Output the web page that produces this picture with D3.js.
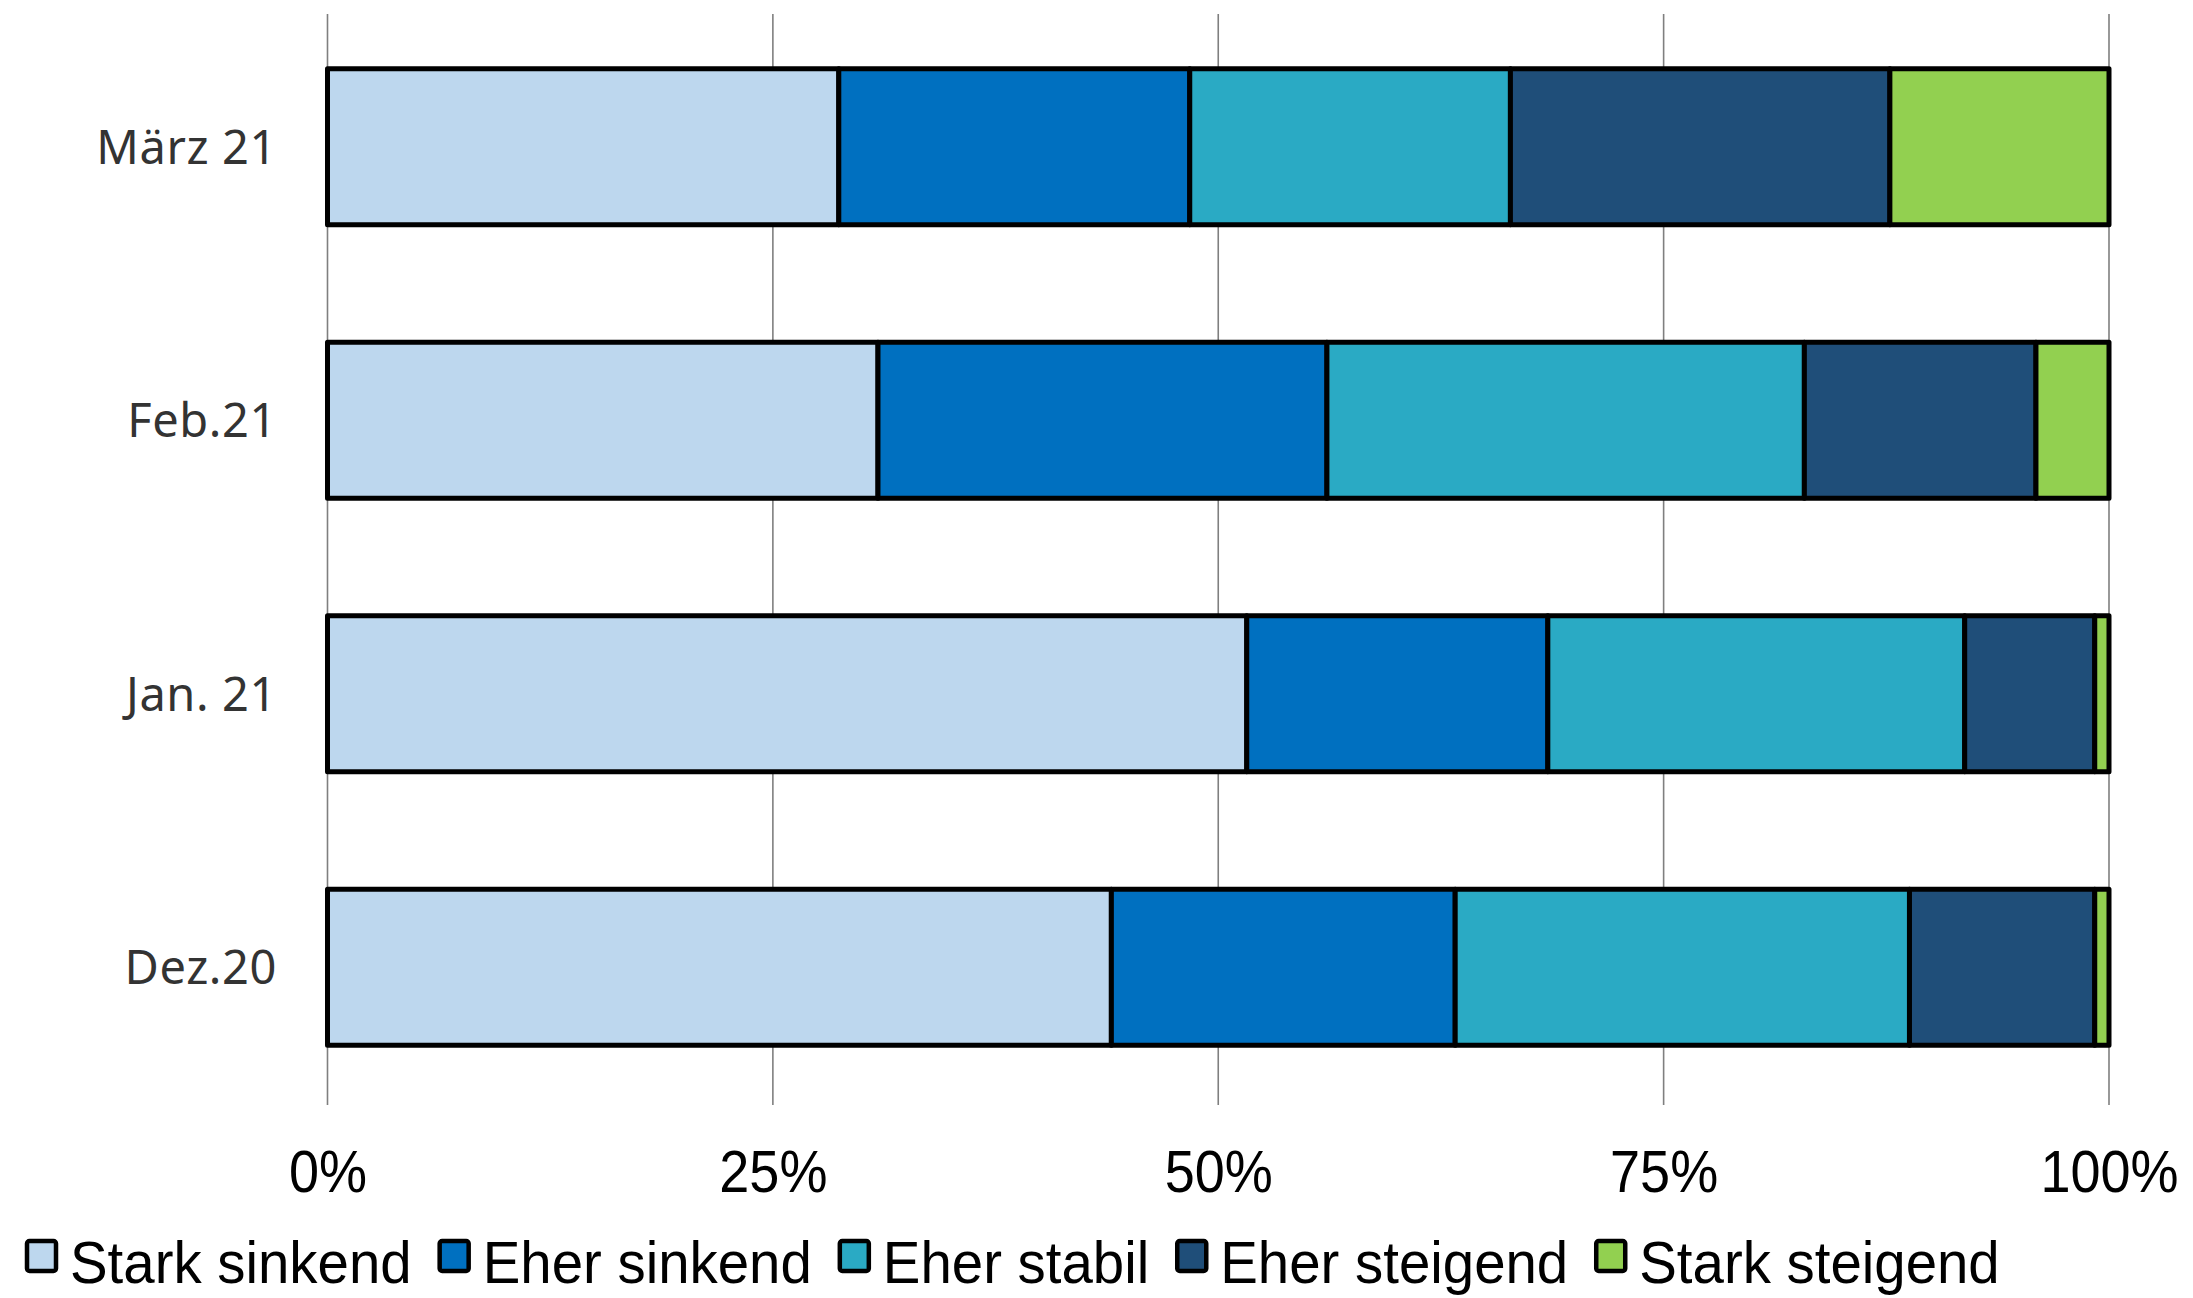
<!DOCTYPE html>
<html>
<head>
<meta charset="utf-8">
<script src="https://cdn.jsdelivr.net/npm/d3@7"></script>
<style>
  html, body { margin: 0; padding: 0; background: #ffffff; }
  svg { display: block; }
</style>
</head>
<body>
<svg id="chart" width="2193" height="1298"></svg>
<script>
// Months, top to bottom
const categories = ["März 21", "Feb.21", "Jan. 21", "Dez.20"];

// Answer shares in percent, one array per answer, same order as categories
const series = ["Stark sinkend", "Eher sinkend", "Eher stabil", "Eher steigend", "Stark steigend"];
const starkSinkend  = [28.7, 30.9, 51.6, 44.0];
const eherSinkend   = [19.7, 25.2, 16.9, 19.3];
const eherStabil    = [18.0, 26.8, 23.4, 25.5];
const eherSteigend  = [21.3, 13.0,  7.3, 10.4];
const starkSteigend = [12.3,  4.1,  0.8,  0.8];

const tickValues = [0, 25, 50, 75, 100];
const tickLabels = ["0%", "25%", "50%", "75%", "100%"];

const colors = ["#BDD7EE", "#0070C0", "#2AAAC4", "#1F4E79", "#92D050"];

const rows = categories.map((c, i) => ({
  cat: c,
  "Stark sinkend": starkSinkend[i],
  "Eher sinkend": eherSinkend[i],
  "Eher stabil": eherStabil[i],
  "Eher steigend": eherSteigend[i],
  "Stark steigend": starkSteigend[i]
}));

const svg = d3.select("#chart");

const x = d3.scaleLinear().domain([0, 100]).range([327.5, 2109]);
const y = d3.scaleBand().domain(categories).range([10, 1104])
  .paddingInner(0.43).paddingOuter(0.215);
const color = d3.scaleOrdinal().domain(series).range(colors);

// vertical gridlines
svg.append("g")
  .selectAll("line")
  .data(tickValues)
  .join("line")
  .attr("x1", d => x(d)).attr("x2", d => x(d))
  .attr("y1", 14).attr("y2", 1105)
  .attr("stroke", "#7f7f7f")
  .attr("stroke-width", 1.6);

// stacked bars
const stacked = d3.stack().keys(series)(rows);
svg.append("g")
  .selectAll("g")
  .data(stacked)
  .join("g")
  .attr("fill", d => color(d.key))
  .selectAll("rect")
  .data(d => d)
  .join("rect")
  .attr("x", d => x(d[0]))
  .attr("y", d => y(d.data.cat))
  .attr("width", d => x(d[1]) - x(d[0]))
  .attr("height", y.bandwidth())
  .attr("stroke", "#000")
  .attr("stroke-width", 5)
  .attr("stroke-linejoin", "round");

// category labels
svg.append("g")
  .selectAll("text")
  .data(categories)
  .join("text")
  .attr("x", 277)
  .attr("y", d => y(d) + y.bandwidth() / 2)
  .attr("dy", "0.36em")
  .attr("text-anchor", "end")
  .attr("font-family", "'Noto Sans', sans-serif")
  .attr("font-size", 47)
  .attr("letter-spacing", 0.6)
  .attr("fill", "#333")
  .text(d => d);

// percentage axis labels (slightly condensed face)
const xAxis = d3.axisBottom(x).tickValues(tickValues)
  .tickFormat((d, i) => tickLabels[i]).tickSize(0).tickPadding(0);
const gx = svg.append("g").attr("transform", "translate(0,1192)").call(xAxis);
gx.select(".domain").remove();
gx.selectAll(".tick text")
  .attr("dy", 0)
  .attr("y", 0)
  .attr("font-family", "'Liberation Sans', Arial, sans-serif")
  .attr("font-size", 60)
  .attr("fill", "#000")
  .attr("transform", "scale(0.9,1)");

// legend
const legend = svg.append("g").attr("transform", "translate(25,1283)");
const textScale = 0.94;
let lx = 0;
series.forEach(s => {
  const g = legend.append("g").attr("transform", `translate(${lx},0)`);
  g.append("rect")
    .attr("x", 2).attr("y", -42)
    .attr("width", 29).attr("height", 30)
    .attr("fill", color(s))
    .attr("stroke", "#000")
    .attr("stroke-width", 4.5)
    .attr("rx", 2.5);
  const t = g.append("text")
    .attr("transform", `translate(45,0) scale(${textScale},1)`)
    .attr("font-family", "'Liberation Sans', Arial, sans-serif")
    .attr("font-size", 60)
    .attr("fill", "#000")
    .text(s);
  lx += 45 + t.node().getComputedTextLength() * textScale + 26;
});
</script>
</body>
</html>
